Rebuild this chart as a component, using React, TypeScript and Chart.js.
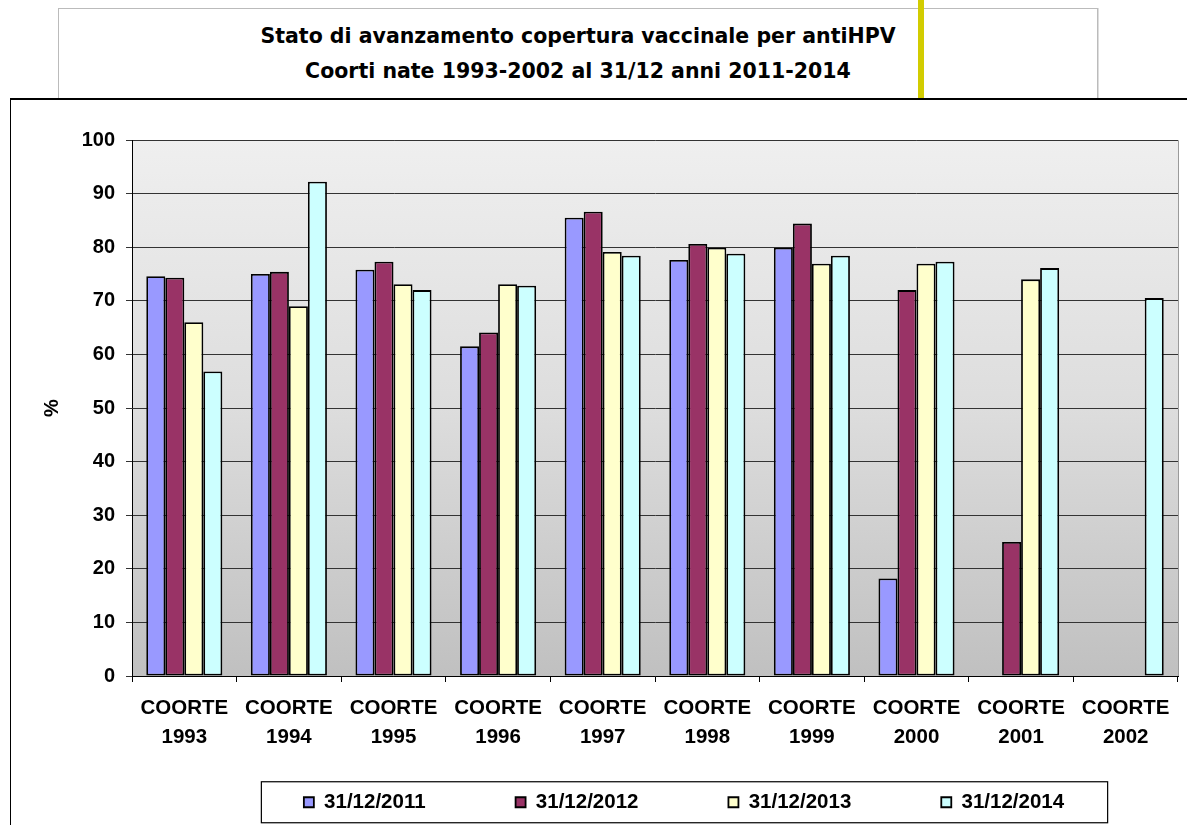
import React, { useEffect, useRef } from "react";
import { Chart, registerables } from "chart.js";

Chart.register(...registerables);

const categories = ["1993", "1994", "1995", "1996", "1997", "1998", "1999", "2000", "2001", "2002"];
const tickLabels = categories.map((y) => ["COORTE", y]);
const seriesNames = ["31/12/2011", "31/12/2012", "31/12/2013", "31/12/2014"];
const s2011 = [74.6, 75.0, 75.8, 61.5, 85.5, 77.6, 79.9, 18.2, null, null];
const s2012 = [74.3, 75.4, 77.3, 64.1, 86.6, 80.6, 84.4, 72.0, 25.0, null];
const s2013 = [66.0, 69.0, 73.1, 73.1, 79.1, 79.9, 76.9, 76.9, 74.0, null];
const s2014 = [56.8, 92.2, 72.0, 72.8, 78.4, 78.8, 78.4, 77.3, 76.1, 70.5];
const seriesColors = ["#9999FF", "#993366", "#FFFFCC", "#CCFFFF"];
const yTicks = [0, 10, 20, 30, 40, 50, 60, 70, 80, 90, 100];
const titleLines = ["Stato di avanzamento copertura vaccinale per antiHPV", "Coorti nate 1993-2002 al 31/12 anni 2011-2014"];

const FONT = '"Liberation Sans", Arial, sans-serif';
const LEGEND_PAD = 90;

const plotBg = {
  id: "plotBg",
  beforeLayout(chart: any) {
    const lg = chart.legend;
    if (lg && !lg.__patched) {
      const f = lg.fit;
      lg.fit = function () {
        f.call(this);
        this.height = 46;
      };
      lg.__patched = true;
    }
  },
  afterLayout(chart: any) {
    const lg = chart.legend;
    if (lg) {
      lg.left = 190;
      lg.top = 702;
    }
  },
  beforeDraw(chart: any) {
    const { ctx, chartArea: a } = chart;
    if (!a) return;
    ctx.save();
    const g = ctx.createLinearGradient(0, a.top, 0, a.bottom);
    g.addColorStop(0, "#efefef");
    g.addColorStop(0.5, "#dddddd");
    g.addColorStop(1, "#c0c0c0");
    ctx.fillStyle = g;
    ctx.fillRect(a.left, a.top, a.right - a.left, a.bottom - a.top);
    ctx.strokeStyle = "#9a9a9a";
    ctx.lineWidth = 1;
    ctx.beginPath();
    ctx.moveTo(a.left, a.top + 0.5);
    ctx.lineTo(a.right + 0.5, a.top + 0.5);
    ctx.lineTo(a.right + 0.5, a.bottom);
    ctx.stroke();
    ctx.restore();
  },
  afterDraw(chart: any) {
    const lg = chart.legend;
    if (!lg || !lg.legendHitBoxes || !lg.legendHitBoxes.length) return;
    const hb = lg.legendHitBoxes;
    const left = hb[0].left - 43;
    const last = hb[hb.length - 1];
    const right = last.left + last.width + 43;
    const cy = hb[0].top + hb[0].height / 2;
    const { ctx } = chart;
    ctx.save();
    ctx.strokeStyle = "#000";
    ctx.lineWidth = 1.2;
    ctx.strokeRect(left + 0.5, cy - 20.5, right - left, 41);
    ctx.restore();
  },
};

export default function App() {
  const ref = useRef<HTMLCanvasElement>(null);
  useEffect(() => {
    if (!ref.current) return;
    const datasets = [s2011, s2012, s2013, s2014].map((d, i) => ({
      label: seriesNames[i],
      data: d,
      backgroundColor: seriesColors[i],
      borderColor: "#000",
      borderWidth: 1.8,
      borderSkipped: false,
      barPercentage: 1,
      categoryPercentage: 0.727,
    }));
    const chart = new Chart(ref.current, {
      type: "bar",
      data: { labels: tickLabels, datasets },
      plugins: [plotBg],
      options: {
        animation: false,
        responsive: false,
        maintainAspectRatio: false,
        layout: { padding: { left: 30, right: 9, top: 140, bottom: 4 } },
        plugins: {
          title: { display: false },
          tooltip: { enabled: false },
          legend: {
            display: true,
            position: "bottom",
            labels: {
              boxWidth: 10,
              boxHeight: 10,
              padding: LEGEND_PAD,
              color: "#000",
              font: { family: FONT, size: 20.5, weight: "bold" },
            },
          },
        },
        scales: {
          x: {
            afterFit: (s: any) => { s.height = 99; },
            grid: { offset: true, drawOnChartArea: false, drawTicks: true, tickLength: 6, color: "#000" },
            border: { display: true, color: "#000", width: 1 },
            ticks: {
              color: "#000",
              padding: 12,
              maxRotation: 0,
              autoSkip: false,
              font: { family: FONT, size: 20.5, weight: "bold", lineHeight: 1.42 },
            },
          },
          y: {
            min: 0,
            max: 100,
            afterFit: (s: any) => { s.width = 102; },
            afterBuildTicks: (s: any) => { s.ticks = yTicks.map((v) => ({ value: v })); },
            grid: { color: "#333", lineWidth: 1, tickLength: 6, drawTicks: true },
            border: { display: true, color: "#000", width: 1 },
            ticks: {
              color: "#000",
              padding: 11,
              font: { family: FONT, size: 20, weight: "bold" },
            },
            title: {
              display: true,
              text: "%",
              color: "#000",
              padding: { top: 10, bottom: 10 },
              font: { family: FONT, size: 20, weight: "bold" },
            },
          },
        },
      },
    });
    return () => chart.destroy();
  }, []);

  return (
    <div style={{ position: "absolute", left: 0, top: 0, width: 1187, height: 825, overflow: "hidden", background: "#fff" }}>
      <div style={{ position: "absolute", left: 58, top: 8, width: 1038, height: 90, border: "1px solid #bbbbbb", borderBottom: "none", boxShadow: "1px 0 0 #dddddd" }} />
      <div style={{ position: "absolute", left: 918, top: 0, width: 6, height: 98, background: "#d2cc00" }} />
      <div style={{ position: "absolute", left: 58, top: 19, width: 1040, textAlign: "center", fontFamily: '"DejaVu Sans", sans-serif', fontWeight: "bold", fontSize: 20.5, lineHeight: "35px", color: "#000" }}>
        <div>{titleLines[0]}</div>
        <div>{titleLines[1]}</div>
      </div>
      <div style={{ position: "absolute", left: 10, top: 98, width: 1177, height: 727, borderLeft: "1.5px solid #000", borderTop: "2px solid #000" }} />
      <canvas ref={ref} width={1187} height={825} style={{ position: "absolute", left: 0, top: 0 }} />
    </div>
  );
}
